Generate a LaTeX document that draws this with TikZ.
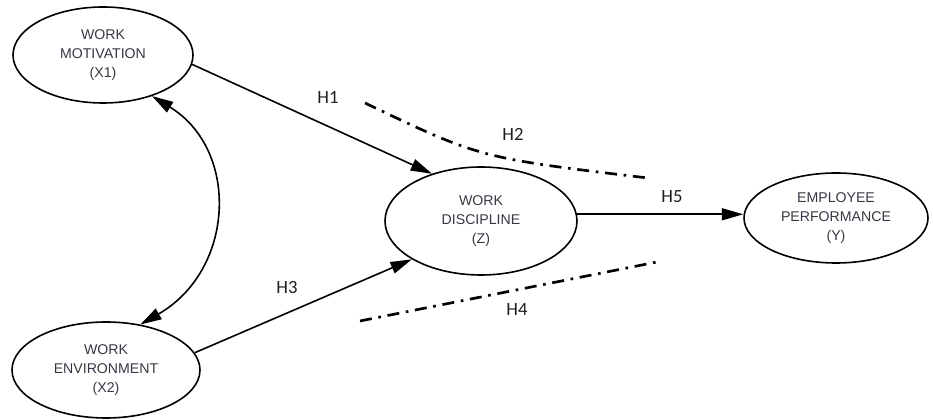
\documentclass[tikz,border=0pt]{standalone}
\usepackage{fontspec}
\setmainfont{Liberation Sans}
\newfontfamily\labfont{Carlito}
\usetikzlibrary{arrows.meta,shapes.geometric}
\definecolor{txtc}{RGB}{55,55,68}
\definecolor{hc}{RGB}{30,30,30}
\begin{document}
\begin{tikzpicture}[x=0.75pt,y=-0.75pt,
  var/.style={ellipse,draw,line width=1.2pt,inner sep=0pt,align=center,
    font=\fontsize{10.6}{14.5}\selectfont,text=txtc},
  path/.style={line width=1.2pt,-{Triangle[length=16pt,width=9pt]}},
  hyp/.style={font=\labfont\fontsize{14}{16}\selectfont,text=hc},
  split/.style={line width=2pt,dash pattern=on 9pt off 5pt on 2pt off 5pt}]
\useasboundingbox (0,0) rectangle (933,420);
\node[var,minimum width=135pt,minimum height=72pt] (x1) at (103,55) {WORK\\MOTIVATION\\(X1)};
\node[var,minimum width=141pt,minimum height=72pt] (x2) at (106,370) {WORK\\ENVIRONMENT\\(X2)};
\node[var,minimum width=144pt,minimum height=81pt] (z) at (481,221) {WORK\\DISCIPLINE\\(Z)};
\node[var,minimum width=138pt,minimum height=67.5pt] (y) at (836,218) {EMPLOYEE\\PERFORMANCE\\(Y)};
\draw[path] (x1.-6) -- (z.136);
\draw[path] (x2.11) -- (z.209);
\draw[path] (z.4) -- (y.west |- z.4);
\draw[line width=1.2pt,{Triangle[length=16pt,width=9pt]}-{Triangle[length=16pt,width=9pt]}]
  (x1.-40) .. controls (240,150) and (235,270) .. (x2.53);
\coordinate (u1) at (365,103);
\coordinate (uc) at (480,158);
\coordinate (u2) at (648,178);
\coordinate (l1) at (360,321);
\coordinate (l2) at (657,262);
\draw[split] (u1) .. controls (uc) .. (u2);
\draw[split] (l1) -- (l2);
\node[hyp] (h1) at (328,97) {H1};
\node[hyp] (h2) at (513,134) {H2};
\node[hyp] (h3) at (287,288) {H3};
\node[hyp] (h4) at (517,310) {H4};
\node[hyp] (h5) at (672,197) {H5};
\end{tikzpicture}
\end{document}
